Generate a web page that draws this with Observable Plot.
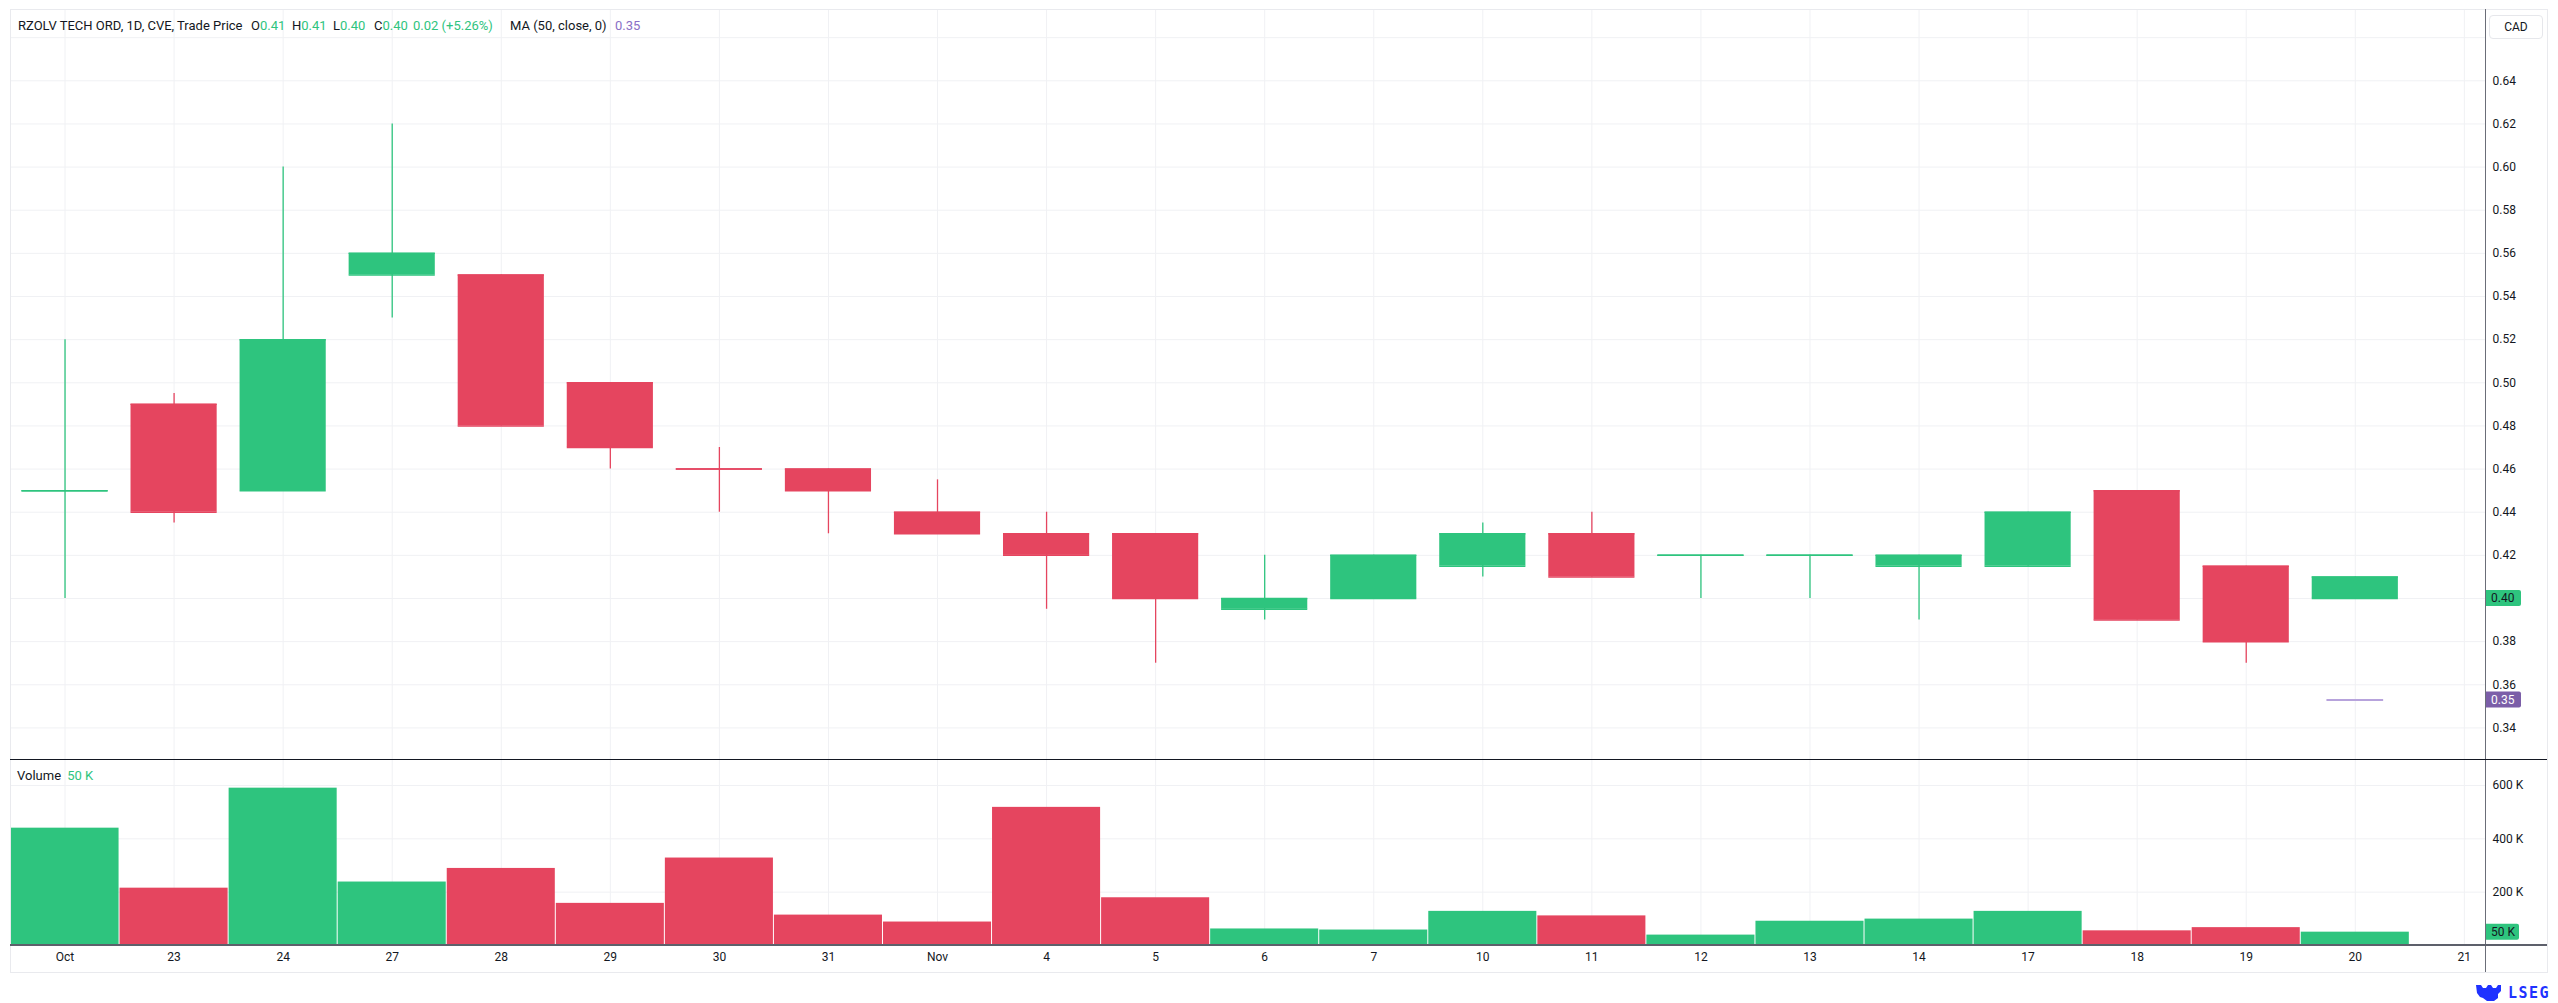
<!DOCTYPE html>
<html>
<head>
<meta charset="utf-8">
<script src="https://cdn.jsdelivr.net/npm/d3@7"></script>
<script src="https://cdn.jsdelivr.net/npm/@observablehq/plot@0.6"></script>
<style>
  html, body { margin: 0; padding: 0; background: #ffffff; }
  #wrap { position: relative; width: 2558px; height: 1003px; overflow: hidden;
          font-family: Roboto, "Open Sans", sans-serif; color: #131722; }
  .abs { position: absolute; white-space: nowrap; }
  .hdr { font-size: 13px; line-height: 16px; }
  .g { color: #2ec47e; }
  .p { color: #8a6fc6; }
  svg { overflow: visible; }
</style>
</head>
<body>
<div id="wrap"></div>
<script>
// ---------------- data ----------------
const xLabels = ["Oct","23","24","27","28","29","30","31","Nov","4","5","6","7","10","11","12","13","14","17","18","19","20","21"];
const openP  = [0.45, 0.49, 0.45, 0.55, 0.55, 0.50, 0.46, 0.46, 0.44, 0.43, 0.43, 0.395, 0.40, 0.415, 0.43, 0.42, 0.42, 0.415, 0.415, 0.45, 0.415, 0.41];
const highP  = [0.52, 0.495, 0.60, 0.62, 0.55, 0.50, 0.47, 0.46, 0.455, 0.44, 0.43, 0.42, 0.42, 0.435, 0.44, 0.42, 0.42, 0.42, 0.44, 0.45, 0.415, 0.41];
const lowP   = [0.40, 0.435, 0.45, 0.53, 0.48, 0.46, 0.44, 0.43, 0.43, 0.395, 0.37, 0.39, 0.40, 0.41, 0.41, 0.40, 0.40, 0.39, 0.415, 0.39, 0.37, 0.40];
const closeP = [0.45, 0.44, 0.52, 0.56, 0.48, 0.47, 0.46, 0.45, 0.43, 0.42, 0.40, 0.40, 0.42, 0.43, 0.41, 0.42, 0.42, 0.42, 0.44, 0.39, 0.38, 0.40];
const volumeK = [440, 215, 590, 238, 289, 158, 328, 114, 88, 518, 179, 62, 58, 128, 111, 39, 91, 99, 128, 55, 67, 50];
const maLast = 0.353;
const priceTicks = [0.34, 0.36, 0.38, 0.40, 0.42, 0.44, 0.46, 0.48, 0.50, 0.52, 0.54, 0.56, 0.58, 0.60, 0.62, 0.64];
const priceGrid  = [0.34, 0.36, 0.38, 0.40, 0.42, 0.44, 0.46, 0.48, 0.50, 0.52, 0.54, 0.56, 0.58, 0.60, 0.62, 0.64, 0.66];
const volumeTicks = [200000, 400000, 600000];

// ---------------- styling ----------------
const GREEN = "#2ec47e", RED = "#e5455f", PURPLE = "#7b5ea8", MA_LINE = "#b7a3dc";
const GRID = "#f0f1f4";
const W = 2558, ML = 10, MR = 2558 - 2485;
const step = 109.06;
const xDomain = [-0.5, -0.5 + (W - ML - MR) / step];

const candles = closeP.map((c, i) => ({
  i, label: xLabels[i], open: openP[i], high: highP[i], low: lowP[i], close: c,
  vol: volumeK[i] * 1000,
  up: i === 0 ? c >= openP[i] : c >= closeP[i - 1]
}));
const indices = xLabels.map((d, i) => i);
const last = candles[candles.length - 1];
const colorOf = d => d.up ? GREEN : RED;

function badge(value, text, fill, textFill, w) {
  return (index, scales, values, dims) => {
    const y = scales.y(value);
    const x0 = dims.width - dims.marginRight;
    const g = d3.create("svg:g");
    g.append("path")
      .attr("d", `M${x0},${y - 8}h${w - 2}a2,2 0 0 1 2,2v12a2,2 0 0 1 -2,2h${-(w - 2)}z`)
      .attr("fill", fill);
    g.append("text").attr("x", x0 + 6).attr("y", y).attr("dy", "0.36em")
      .attr("text-anchor", "start")
      .attr("fill", textFill).attr("font-size", 12).attr("font-family", "Roboto, sans-serif").text(text);
    return g.node();
  };
}

// ---------------- price pane ----------------
const price = Plot.plot({
  width: W, height: 750,
  marginLeft: ML, marginRight: MR, marginTop: 0, marginBottom: 0,
  x: { type: "linear", domain: xDomain, axis: null },
  y: { domain: [0.32536, 0.67306], axis: null },
  style: { background: "transparent", fontFamily: "Roboto, sans-serif" },
  marks: [
    Plot.gridX(indices, { stroke: GRID, strokeOpacity: 1 }),
    Plot.gridY(priceGrid, { stroke: GRID, strokeOpacity: 1 }),
    Plot.ruleX(candles, { x: "i", y1: "low", y2: "high", stroke: colorOf, strokeWidth: 1.3 }),
    Plot.rect(candles, {
      x1: d => d.i - 0.395, x2: d => d.i + 0.395,
      y1: "open", y2: "close", fill: colorOf
    }),
    Plot.ruleY(candles, {
      y: "close", x1: d => d.i - 0.395, x2: d => d.i + 0.395, stroke: colorOf, strokeWidth: 1.5
    }),
    Plot.ruleY(candles, {
      y: "open", x1: d => d.i - 0.395, x2: d => d.i + 0.395, stroke: colorOf, strokeWidth: 1.5
    }),
    Plot.ruleY([{ i: last.i, v: maLast }], {
      y: "v", x1: d => d.i - 0.26, x2: d => d.i + 0.26, stroke: MA_LINE, strokeWidth: 2
    }),
    Plot.axisY(priceTicks, {
      anchor: "right", label: null, tickSize: 0, tickPadding: 7, fontSize: 12, fill: "#131722",
      tickFormat: d3.format(".2f")
    }),
    badge(last.close, d3.format(".2f")(last.close), GREEN, "#131722", 36),
    badge(maLast, d3.format(".2f")(maLast), PURPLE, "#ffffff", 36)
  ]
});

// ---------------- volume pane ----------------
const volume = Plot.plot({
  width: W, height: 213,
  marginLeft: ML, marginRight: MR, marginTop: 0, marginBottom: 27,
  x: { type: "linear", domain: xDomain, axis: null },
  y: { domain: [0, 697500], axis: null },
  style: { background: "transparent", fontFamily: "Roboto, sans-serif" },
  marks: [
    Plot.gridX(indices, { stroke: GRID, strokeOpacity: 1 }),
    Plot.gridY(volumeTicks, { stroke: GRID, strokeOpacity: 1 }),
    Plot.rect(candles, {
      x1: d => d.i - 0.5, x2: d => d.i + 0.5, y1: 0, y2: "vol",
      fill: colorOf, insetLeft: 0.5, insetRight: 0.5
    }),
    Plot.axisY(volumeTicks, {
      anchor: "right", label: null, tickSize: 0, tickPadding: 7, fontSize: 12, fill: "#131722",
      tickFormat: d => d / 1000 + " K"
    }),
    Plot.axisX(indices, {
      anchor: "bottom", label: null, tickSize: 0, tickPadding: 7, fontSize: 12, fill: "#131722",
      tickFormat: i => xLabels[i]
    }),
    badge(last.vol, last.vol / 1000 + " K", GREEN, "#131722", 34)
  ]
});

// ---------------- assemble ----------------
const wrap = document.getElementById("wrap");
function place(el, left, top) {
  el.style.position = "absolute"; el.style.left = left + "px"; el.style.top = top + "px";
  wrap.appendChild(el);
}
place(price, 0, 9);
place(volume, 0, 759);

function div(css, html) {
  const d = document.createElement("div");
  d.className = "abs";
  d.style.cssText += css;
  if (html !== undefined) d.innerHTML = html;
  wrap.appendChild(d);
  return d;
}
// frame & pane lines
div("left:10px;top:9px;width:2538px;height:964px;box-sizing:border-box;border:1px solid #e9eaee;");
div("left:2485px;top:9px;width:1px;height:963px;background:#6b6e78;");
div("left:10px;top:759px;width:2537px;height:1px;background:#131722;");
div("left:10px;top:944px;width:2537px;height:2px;background:#5d606b;");

// header legend
const h = "top:18px;";
div(h + "left:18px;", "RZOLV TECH ORD, 1D, CVE, Trade Price").classList.add("hdr");
div(h + "left:251px;", `O<span class="g">${d3.format(".2f")(last.open)}</span>`).classList.add("hdr");
div(h + "left:292px;", `H<span class="g">${d3.format(".2f")(last.high)}</span>`).classList.add("hdr");
div(h + "left:333px;", `L<span class="g">${d3.format(".2f")(last.low)}</span>`).classList.add("hdr");
div(h + "left:374px;", `C<span class="g">${d3.format(".2f")(last.close)}</span>`).classList.add("hdr");
const chg = last.close - closeP[closeP.length - 2];
div(h + "left:413px;", `<span class="g">${d3.format(".2f")(chg)} (${d3.format("+.2%")(chg / closeP[closeP.length - 2])})</span>`).classList.add("hdr");
div(h + "left:510px;", "MA (50, close, 0)").classList.add("hdr");
div(h + "left:615px;", `<span class="p">${d3.format(".2f")(maLast)}</span>`).classList.add("hdr");

// volume legend
div("top:768px;left:17px;", `Volume <span class="g" style="margin-left:3px">${last.vol / 1000} K</span>`).classList.add("hdr");

// CAD box
div("left:2489px;top:15px;width:54px;height:24px;box-sizing:border-box;border:1px solid #e6e7eb;border-radius:4px;font-size:12px;line-height:22px;text-align:center;", "CAD");

// LSEG mark
div("left:2475px;top:983px;width:27px;height:18px;",
  `<svg width="27" height="18" viewBox="0 0 27 18"><path d="M1,2h5l2,3h3l2,-3h3l2,3h3l2,-3h3v6l-3,3v4l-4,3h-7l-4,-3l-3,-1l-3,-4z" fill="#1f32ff"/></svg>`);
div("left:2508px;top:984px;font-size:15px;font-weight:700;color:#1f32ff;letter-spacing:1.5px;font-family:'DejaVu Sans Mono',monospace;", "LSEG");
</script>
</body>
</html>
